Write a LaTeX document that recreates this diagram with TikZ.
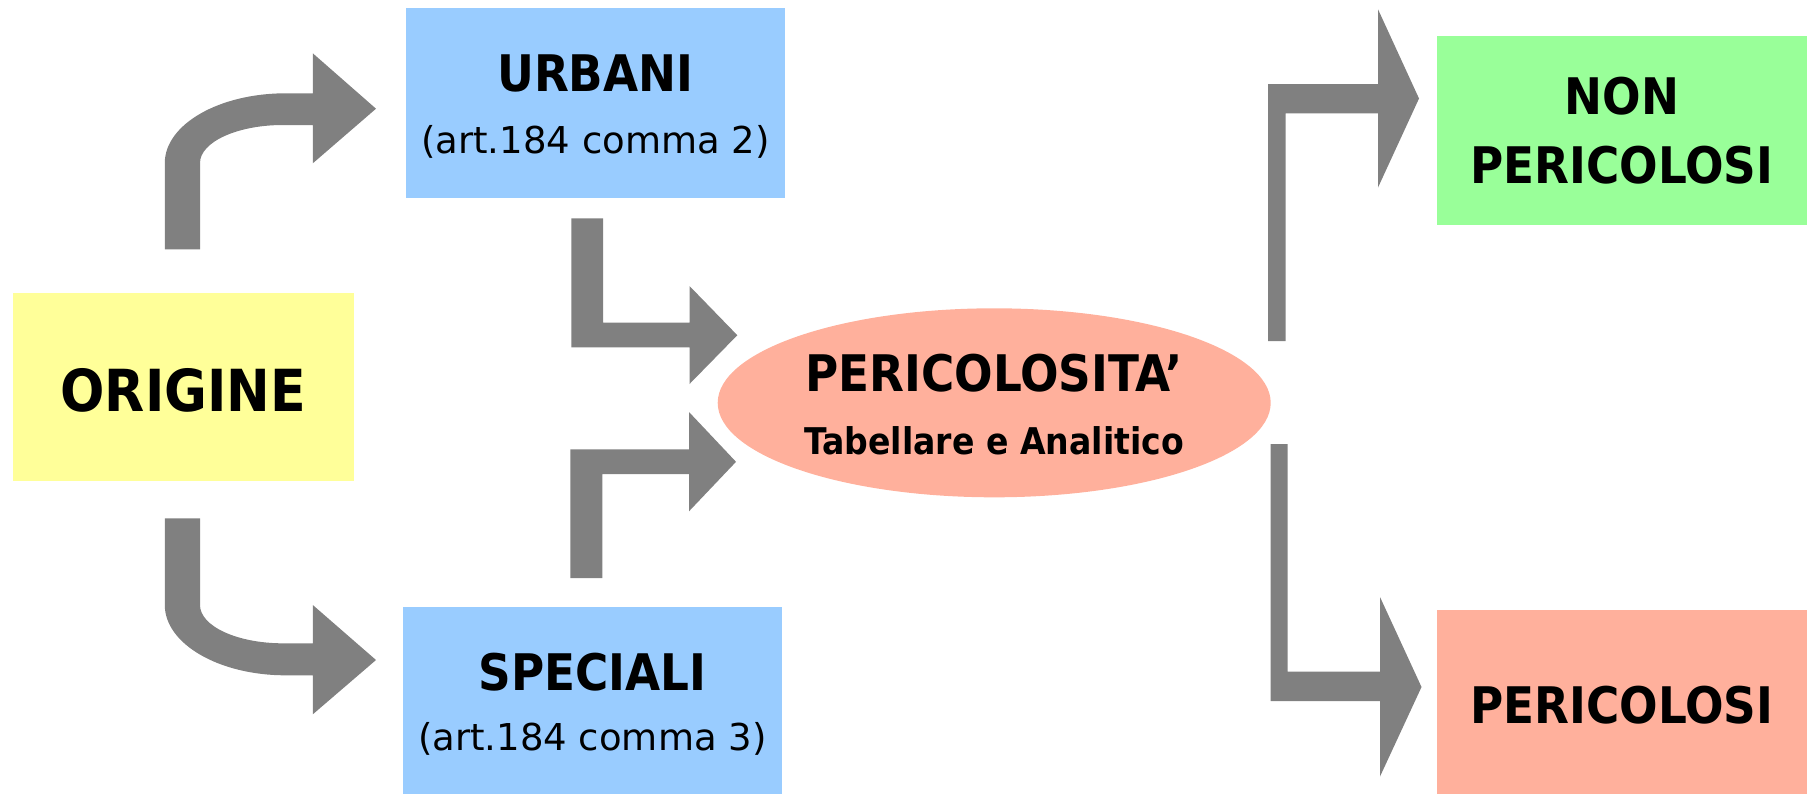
\documentclass[tikz,border=0pt]{standalone}
\usepackage{fontspec}
\setmainfont{DejaVu Sans}
\newfontfamily\cbf{DejaVu Sans Condensed Bold}
\usetikzlibrary{shapes.geometric}
\definecolor{arrowgray}{HTML}{808080}
\definecolor{yel}{HTML}{FFFF99}
\definecolor{blu}{HTML}{99CCFF}
\definecolor{sal}{HTML}{FFB09C}
\definecolor{grn}{HTML}{99FF99}
\newcommand\bigfont[1]{\cbf\fontsize{25.2}{#1}\selectfont}
\newcommand\subfont{\normalfont\fontsize{18.5}{20}\selectfont}
\begin{document}
\begin{tikzpicture}[x=0.5pt,y=-0.5pt,
  box/.style={fill=#1, draw=none, inner sep=0pt, align=center},
  blockarrow/.style={fill=arrowgray, draw=none}]
\useasboundingbox (0,0) rectangle (1807,794);
% boxes
\node[box=yel, minimum width=170.4pt, minimum height=94pt, text height=24.1pt, text depth=0pt,
      font={\cbf\fontsize{29}{35}\selectfont}] (origine) at (183.2,387.3) {ORIGINE};
\node[box=blu, font={\bigfont{30.8}}, text height=52.85pt, text depth=2.4pt,
      minimum width=189.35pt, minimum height=94.85pt] (urbani) at (595.35,102.85)
  {URBANI\\{\subfont (art.184 comma 2)}};
\node[box=blu, font={\bigfont{30}}, text height=51.9pt, text depth=2.4pt,
      minimum width=189.3pt, minimum height=93.5pt] (speciali) at (592.3,700.5)
  {SPECIALI\\{\subfont (art.184 comma 3)}};
\node[box=sal, ellipse, font={\bigfont{31.5}}, text height=51.2pt, text depth=0pt,
      minimum width=276.5pt, minimum height=94.5pt] (peric) at (994.2,402.8)
  {PERICOLOSITA’\\{\fontsize{18.4}{20}\selectfont Tabellare e Analitico}};
\node[box=grn, font={\bigfont{34.2}}, text height=52.8pt, text depth=0pt,
      minimum width=185.2pt, minimum height=94.5pt] (nonper) at (1621.8,130.5)
  {NON\\PERICOLOSI};
\node[box=sal, font={\bigfont{30}}, text height=21.3pt, text depth=0pt,
      minimum width=185.2pt, minimum height=92pt] (per) at (1621.8,702)
  {PERICOLOSI};
% arrows
\fill[blockarrow] (164.8,249.3) -- (164.8,163)
  arc[start angle=180,end angle=270,x radius=120.9,y radius=69.7]
  -- (312.8,93.3) -- (312.8,53.3) -- (376,108.7) -- (312.8,163.3) -- (312.8,125) -- (283,125)
  arc[start angle=270,end angle=180,x radius=83,y radius=38]
  -- (200,249.3) -- cycle;
\fill[blockarrow] (200,518.3) -- (200,605)
  arc[start angle=180,end angle=90,x radius=83,y radius=38.3]
  -- (312.8,643.3) -- (312.8,605) -- (376,660) -- (312.8,714.3) -- (312.8,675.3) -- (285.7,675.3)
  arc[start angle=90,end angle=180,x radius=120.9,y radius=70.3]
  -- (164.8,518.3) -- cycle;
\fill[blockarrow] (571.4,218.3) -- (571.4,347.3) -- (689.5,347.3) -- (689.5,384) -- (737.3,335.2)
  -- (689.5,286) -- (689.5,322.7) -- (603,322.7) -- (603,218.3) -- cycle;
\fill[blockarrow] (570.4,578) -- (570.4,449.3) -- (689,449.3) -- (689,412) -- (736,461.8)
  -- (689,511.3) -- (689,474) -- (602.4,474) -- (602.4,578) -- cycle;
\fill[blockarrow] (1268,341) -- (1268,84) -- (1378,84) -- (1378,9.3) -- (1419,98.5)
  -- (1378,187.5) -- (1378,113.3) -- (1285.5,113.3) -- (1285.5,341) -- cycle;
\fill[blockarrow] (1270.5,444) -- (1270.5,701) -- (1380,701) -- (1380,776.5) -- (1421.5,687)
  -- (1380,597) -- (1380,671.5) -- (1287.5,671.5) -- (1287.5,444) -- cycle;
\end{tikzpicture}
\end{document}
